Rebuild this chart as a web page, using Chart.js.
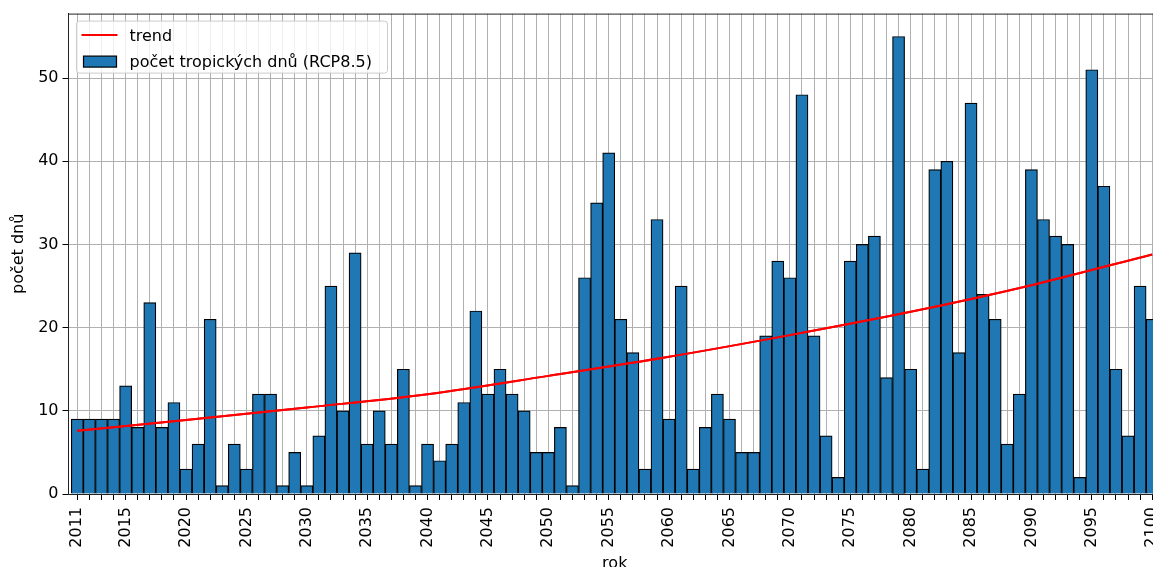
<!DOCTYPE html>
<html lang="cs">
<head>
<meta charset="utf-8">
<title>Počet tropických dnů (RCP8.5)</title>
<script src="https://cdn.jsdelivr.net/npm/chart.js@4.4.1/dist/chart.umd.min.js"></script>
<style>
  html, body { margin: 0; padding: 0; background: #fff; overflow: hidden; }
  /* the reference figure is cut off on the right and at the bottom */
  #frame { width: 1153px; height: 567px; overflow: hidden; position: relative; }
  #chart { display: block; }
</style>
</head>
<body>
<div id="frame">
  <canvas id="chart" width="1170" height="580"></canvas>
</div>
<script>
// --- data ---
const years = [
  2011, 2012, 2013, 2014, 2015, 2016, 2017, 2018, 2019, 2020,
  2021, 2022, 2023, 2024, 2025, 2026, 2027, 2028, 2029, 2030,
  2031, 2032, 2033, 2034, 2035, 2036, 2037, 2038, 2039, 2040,
  2041, 2042, 2043, 2044, 2045, 2046, 2047, 2048, 2049, 2050,
  2051, 2052, 2053, 2054, 2055, 2056, 2057, 2058, 2059, 2060,
  2061, 2062, 2063, 2064, 2065, 2066, 2067, 2068, 2069, 2070,
  2071, 2072, 2073, 2074, 2075, 2076, 2077, 2078, 2079, 2080,
  2081, 2082, 2083, 2084, 2085, 2086, 2087, 2088, 2089, 2090,
  2091, 2092, 2093, 2094, 2095, 2096, 2097, 2098, 2099, 2100
];

// number of tropical days per year (RCP8.5)
const tropicalDays = [
  9, 9, 9, 9, 13, 8, 23, 8, 11, 3,
  6, 21, 1, 6, 3, 12, 12, 1, 5, 1,
  7, 25, 10, 29, 6, 10, 6, 15, 1, 6,
  4, 6, 11, 22, 12, 15, 12, 10, 5, 5,
  8, 1, 26, 35, 41, 21, 17, 3, 33, 9,
  25, 3, 8, 12, 9, 5, 5, 19, 28, 26,
  48, 19, 7, 2, 28, 30, 31, 14, 55, 15,
  3, 39, 40, 17, 47, 24, 21, 6, 12, 39,
  33, 31, 30, 2, 51, 37, 15, 7, 25, 21
];

// red trend curve, read at a few years
const trendYears = [2011, 2020, 2030, 2040, 2050, 2060, 2070, 2080, 2090, 2100];
const trendValues = [7.6, 8.9, 10.4, 12.0, 14.2, 16.5, 19.1, 21.9, 25.1, 28.8];

const xTickLabels = [2011, 2015, 2020, 2025, 2030, 2035, 2040, 2045, 2050, 2055,
  2060, 2065, 2070, 2075, 2080, 2085, 2090, 2095, 2100];
const yTicks = [0, 10, 20, 30, 40, 50];

const barLabel = 'počet tropických dnů (RCP8.5)';
const trendLabel = 'trend';

// --- chart setup ---
Chart.defaults.font.family = '"DejaVu Sans", sans-serif';
Chart.defaults.font.size = 16;
Chart.defaults.color = '#000';

// draws the trend again over the grid, the top spine and the legend box
const overlayPlugin = {
  id: 'overlay',
  afterDraw(chart) {
    const ctx = chart.ctx;
    const area = chart.chartArea;

    ctx.save();
    ctx.beginPath();
    ctx.rect(area.left, area.top, area.right - area.left, area.bottom - area.top);
    ctx.clip();
    chart.getDatasetMeta(1).controller.draw();
    ctx.restore();

    ctx.save();
    ctx.strokeStyle = '#222';
    ctx.lineWidth = 1;
    ctx.beginPath();
    ctx.moveTo(area.left, area.top + 0.5);
    ctx.lineTo(area.right, area.top + 0.5);
    ctx.stroke();

    // legend
    const bx = area.left + 8, by = area.top + 7.5;
    ctx.fillStyle = 'rgba(255,255,255,0.8)';
    ctx.strokeStyle = '#cccccc';
    ctx.lineWidth = 1;
    ctx.beginPath();
    ctx.roundRect(bx, by, 311, 52, 3);
    ctx.fill();
    ctx.stroke();

    const trendDs = chart.data.datasets[1];
    const barDs = chart.data.datasets[0];
    ctx.strokeStyle = trendDs.borderColor;
    ctx.lineWidth = 2;
    ctx.beginPath();
    ctx.moveTo(bx + 5, by + 14);
    ctx.lineTo(bx + 41, by + 14);
    ctx.stroke();

    ctx.fillStyle = barDs.backgroundColor;
    ctx.fillRect(bx + 7, by + 35, 33, 11);
    ctx.strokeStyle = barDs.borderColor;
    ctx.lineWidth = 1.2;
    ctx.strokeRect(bx + 7, by + 35, 33, 11);

    ctx.fillStyle = '#000';
    ctx.font = '16px "DejaVu Sans"';
    ctx.textBaseline = 'alphabetic';
    ctx.fillText(trendDs.label, bx + 53, by + 20);
    ctx.fillText(barDs.label, bx + 53, by + 46);
    ctx.restore();
  }
};

new Chart(document.getElementById('chart'), {
  type: 'bar',
  data: {
    datasets: [
      {
        type: 'bar',
        label: barLabel,
        data: years.map((y, i) => ({ x: y, y: tropicalDays[i] })),
        backgroundColor: '#1f77b4',
        borderColor: '#000',
        borderWidth: 1.2,
        barPercentage: 1,
        categoryPercentage: 1,
        order: 1
      },
      {
        type: 'line',
        label: trendLabel,
        data: trendYears.map((y, i) => ({ x: y, y: trendValues[i] })),
        borderColor: '#ff0000',
        borderWidth: 2,
        pointRadius: 0,
        fill: false,
        cubicInterpolationMode: 'monotone',
        order: 0
      }
    ]
  },
  options: {
    responsive: false,
    animation: false,
    layout: { padding: { top: 13, right: 9, left: 0, bottom: 0 } },
    plugins: {
      legend: { display: false },
      tooltip: { enabled: false }
    },
    scales: {
      x: {
        type: 'linear',
        min: 2010.27,
        max: 2100.73,
        offset: false,
        z: 1,
        afterBuildTicks: scale => { scale.ticks = years.map(v => ({ value: v })); },
        afterFit: scale => {
          scale.height = 86;
          scale.paddingLeft = 0;
          scale.paddingRight = 0;
        },
        ticks: {
          autoSkip: false,
          minRotation: 90,
          maxRotation: 90,
          padding: 7,
          callback: v => xTickLabels.includes(v) ? String(v) : ''
        },
        grid: {
          offset: false,
          color: '#b0b0b0',
          lineWidth: 1,
          tickColor: '#000',
          tickLength: 6
        },
        border: { color: '#222', width: 1 },
        title: { display: true, text: 'rok', padding: { top: 0, bottom: 7 } }
      },
      y: {
        min: 0,
        max: 57.75,
        z: 1,
        afterBuildTicks: scale => { scale.ticks = yTicks.map(v => ({ value: v })); },
        afterFit: scale => { scale.width = 68.5; },
        ticks: { padding: 4 },
        grid: {
          color: '#b0b0b0',
          lineWidth: 1,
          tickColor: '#000',
          tickLength: 6
        },
        border: { color: '#222', width: 1 },
        title: { display: true, text: 'počet dnů', padding: { top: 9, bottom: 0 } }
      }
    }
  },
  plugins: [overlayPlugin]
});
</script>
</body>
</html>
